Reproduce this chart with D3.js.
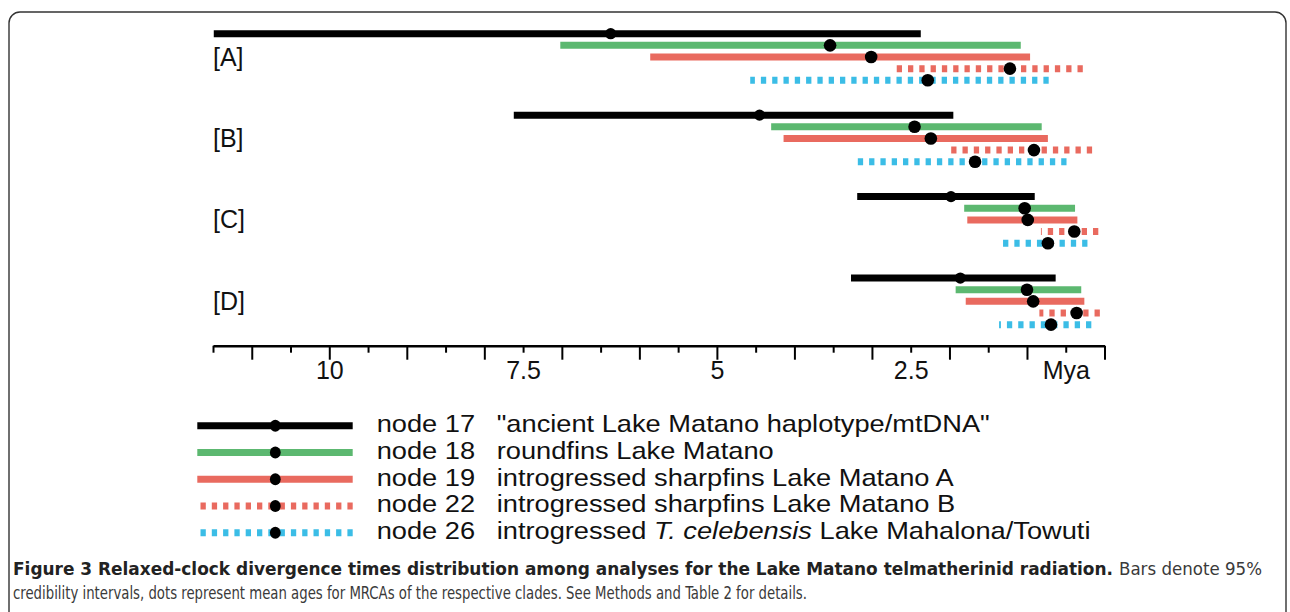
<!DOCTYPE html>
<html>
<head>
<meta charset="utf-8">
<script src="https://cdn.jsdelivr.net/npm/d3@7"></script>
<style>
  body { margin: 0; background: #fff; }
  svg text { font-family: "Liberation Sans", Arial, Helvetica, sans-serif; }
</style>
</head>
<body>
<div id="chart"></div>
<script>
// Analyses (panels) and nodes shown in each panel
const analyses = ["[A]", "[B]", "[C]", "[D]"];
const nodes = ["node 17", "node 18", "node 19", "node 22", "node 26"];
const nodeLabels = [
    "\"ancient Lake Matano haplotype/mtDNA\"",
    "roundfins Lake Matano",
    "introgressed sharpfins Lake Matano A",
    "introgressed sharpfins Lake Matano B",
    "introgressed |T. celebensis| Lake Mahalona/Towuti"
];
const nodeColors = ["#000000", "#5cb870", "#e96a5f", "#e96a5f", "#3bbde6"];
const nodeDashed = [false, false, false, true, true];

// 95% credibility intervals (Mya), one row per analysis, one value per node
const hpdOld = [
    [11.49, 7.02, 5.86, 2.68, 4.57],
    [7.62, 4.30, 4.14, 1.98, 3.19],
    [3.19, 1.81, 1.77, 0.82, 1.32],
    [3.27, 1.92, 1.79, 0.84, 1.36]
];
const hpdYoung = [
    [2.37, 1.08, 0.96, 0.28, 0.72],
    [1.95, 0.81, 0.73, 0.16, 0.49],
    [0.90, 0.38, 0.35, 0.08, 0.22],
    [0.63, 0.30, 0.26, 0.06, 0.17]
];
// mean ages (Mya)
const meanAge = [
    [6.37, 3.54, 3.01, 1.22, 2.28],
    [4.45, 2.45, 2.24, 0.91, 1.67],
    [1.98, 1.03, 0.99, 0.39, 0.73],
    [1.86, 1.00, 0.92, 0.36, 0.69]
];

// axis ticks
const majorTicks = d3.range(0, 11.01, 1);
const minorTicks = d3.range(0.5, 11.6, 1);
const tickLabels = [10, 7.5, 5, 2.5, 0.5];

const width = 1290, height = 612;

const svg = d3.select("#chart").append("svg")
    .attr("width", width)
    .attr("height", height);

// frame around the figure
svg.append("rect")
    .attr("x", 9).attr("y", 12)
    .attr("width", 1277).attr("height", 700)
    .attr("rx", 11).attr("ry", 11)
    .attr("fill", "none")
    .attr("stroke", "#333")
    .attr("stroke-width", 1.4);

const x = d3.scaleLinear()
    .domain([11.5, 0])
    .range([213, 1104.5]);

// panel and row positions
const yGroup = d3.scaleLinear().domain([0, 1]).range([33.7, 115.15]);
const yRow = d3.scaleLinear().domain([0, 1]).range([0, 11.65]);
const axisY = 345.7;

const dash = "5.3,6";

analyses.forEach((name, g) => {
    svg.append("text")
        .attr("x", 213)
        .attr("y", yGroup(g) + yRow(2) + 8.5)
        .attr("font-size", 25)
        .attr("fill", "#111")
        .text(name);

    nodes.forEach((node, i) => {
        const yy = yGroup(g) + yRow(i);
        // draw from the young end so the dash pattern starts on the right
        svg.append("line")
            .attr("x1", x(hpdYoung[g][i]))
            .attr("x2", x(hpdOld[g][i]))
            .attr("y1", yy).attr("y2", yy)
            .attr("stroke", nodeColors[i])
            .attr("stroke-width", 7)
            .attr("stroke-dasharray", nodeDashed[i] ? dash : null);

        svg.append("circle")
            .attr("cx", x(meanAge[g][i]))
            .attr("cy", yy)
            .attr("r", i === 0 ? 5.6 : 6.3)
            .attr("fill", "#000");
    });
});

// time axis
const axisG = svg.append("g").attr("transform", `translate(0,${axisY})`);

axisG.append("g")
    .call(d3.axisBottom(x).tickValues(majorTicks).tickSize(14).tickSizeOuter(0).tickFormat(""))
    .call(g => g.selectAll("line").attr("stroke-width", 2))
    .call(g => g.select(".domain").attr("stroke-width", 2.4));

axisG.append("g")
    .call(d3.axisBottom(x).tickValues(minorTicks).tickSize(7).tickFormat(""))
    .call(g => g.select(".domain").remove())
    .call(g => g.selectAll("line").attr("stroke-width", 2));

axisG.append("g")
    .call(d3.axisBottom(x).tickValues(tickLabels).tickSize(0).tickPadding(15.5)
        .tickFormat(d => d === 0.5 ? "Mya" : d))
    .call(g => g.select(".domain").remove())
    .call(g => g.selectAll("text")
        .attr("font-size", 25)
        .attr("font-family", "Liberation Sans, Arial, sans-serif")
        .attr("fill", "#111"));

// legend
const legendY = d3.scaleLinear().domain([0, 1]).range([425.7, 452.45]);
const legend = svg.append("g");
const stretch = 1.135; // legend lettering is drawn a little wider than normal

nodes.forEach((node, i) => {
    const yy = legendY(i);
    legend.append("line")
        .attr("x1", 352.7).attr("x2", 197.3)
        .attr("y1", yy).attr("y2", yy)
        .attr("stroke", nodeColors[i])
        .attr("stroke-width", 7)
        .attr("stroke-dasharray", nodeDashed[i] ? dash : null);

    legend.append("ellipse")
        .attr("cx", 275.3).attr("cy", yy)
        .attr("rx", 5.4).attr("ry", 6)
        .attr("fill", "#000");

    legend.append("text")
        .attr("transform", `translate(376.7,${yy + 6.5}) scale(${stretch},1)`)
        .attr("font-size", 24)
        .attr("fill", "#111")
        .text(node);

    const t = legend.append("text")
        .attr("transform", `translate(496.7,${yy + 6.5}) scale(${stretch},1)`)
        .attr("font-size", 24)
        .attr("fill", "#111");
    nodeLabels[i].split("|").forEach((part, k) => {
        t.append("tspan")
            .attr("font-style", k % 2 === 1 ? "italic" : null)
            .text(part);
    });
});

// caption
const capFont = "'Liberation Sans Narrow', 'DejaVu Sans Condensed', 'Liberation Sans', sans-serif";

svg.append("text")
    .attr("x", 13).attr("y", 575)
    .attr("font-size", 18)
    .attr("font-weight", "bold")
    .attr("fill", "#222")
    .style("font-family", capFont)
    .attr("textLength", 1100)
    .attr("lengthAdjust", "spacingAndGlyphs")
    .text("Figure 3 Relaxed-clock divergence times distribution among analyses for the Lake Matano telmatherinid radiation.");

svg.append("text")
    .attr("x", 1119).attr("y", 575)
    .attr("font-size", 18)
    .attr("fill", "#3a3a3a")
    .style("font-family", capFont)
    .attr("textLength", 143)
    .attr("lengthAdjust", "spacingAndGlyphs")
    .text("Bars denote 95%");

svg.append("text")
    .attr("x", 13).attr("y", 599)
    .attr("font-size", 18)
    .attr("fill", "#3a3a3a")
    .style("font-family", capFont)
    .attr("textLength", 794)
    .attr("lengthAdjust", "spacingAndGlyphs")
    .text("credibility intervals, dots represent mean ages for MRCAs of the respective clades. See Methods and Table 2 for details.");
</script>
</body>
</html>
